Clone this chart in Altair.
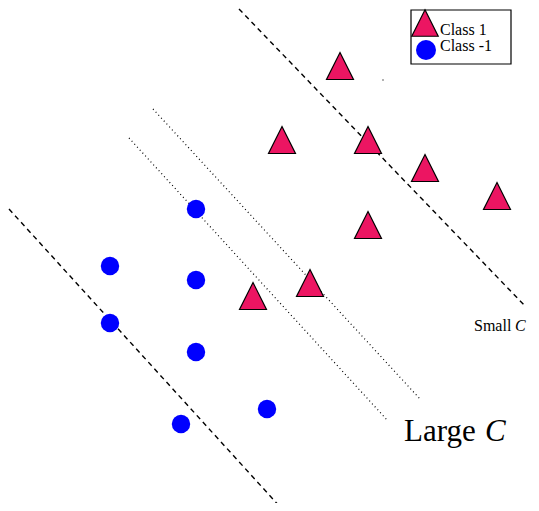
import altair as alt
import pandas as pd

# Data in picture coordinates (x to the right, y downward)
class1_x = [340, 282, 368, 425, 497, 368, 310, 253]
class1_y = [66, 140, 140, 168, 196, 225, 283, 296]
classm1_x = [196, 110, 196, 110, 196, 267, 181]
classm1_y = [209, 266, 280, 323, 352, 409, 424]

# separating lines (two end points each)
line_names = ["small_C", "small_C", "large_C_margin", "large_C_margin",
              "large_C_a", "large_C_a", "large_C_b", "large_C_b"]
line_x = [239, 526, 9, 282, 153, 420, 129, 388]
line_y = [9, 307, 209, 509, 109, 399, 138, 421]
line_style = ["dashed", "dashed", "dashed", "dashed", "dotted", "dotted", "dotted", "dotted"]

labels = ["Small ", "Large "]
legend_labels = ["Class 1", "Class -1"]

X = alt.Scale(domain=[8, 531], nice=False, zero=False)
Y = alt.Scale(domain=[8, 503], nice=False, zero=False, reverse=True)

pink = "#EC1562"
blue = "#0000FF"
tri = "M0,-1L1,1L-1,1Z"
serif = "Liberation Serif"

def enc(ch):
    return ch.encode(x=alt.X("x:Q", scale=X, axis=None), y=alt.Y("y:Q", scale=Y, axis=None))

lines_df = pd.DataFrame({"x": line_x, "y": line_y, "name": line_names, "style": line_style})
dashed = alt.Chart(lines_df[lines_df["style"] == "dashed"]).mark_line(
    color="black", strokeWidth=1.4, strokeDash=[5, 4]
).encode(x=alt.X("x:Q", scale=X, axis=None), y=alt.Y("y:Q", scale=Y, axis=None), detail="name:N")
dotted = alt.Chart(lines_df[lines_df["style"] == "dotted"]).mark_line(
    color="black", strokeWidth=1.2, strokeDash=[1, 3]
).encode(x=alt.X("x:Q", scale=X, axis=None), y=alt.Y("y:Q", scale=Y, axis=None), detail="name:N")

c1 = enc(alt.Chart(pd.DataFrame({"x": class1_x, "y": class1_y})).mark_point(
    shape=tri, filled=True, fill=pink, stroke="black", strokeWidth=1.2, opacity=1, size=729
))

cm1 = enc(alt.Chart(pd.DataFrame({"x": classm1_x, "y": classm1_y})).mark_circle(
    color=blue, opacity=1, size=340
))

dot = enc(alt.Chart(pd.DataFrame({"x": [383], "y": [80]})).mark_square(
    color="#888888", opacity=1, size=3
))

def txt(x, y, t, size, style="normal", font=serif):
    return alt.Chart(pd.DataFrame({"x": x, "y": y, "t": t})).mark_text(
        font=font, fontSize=size, fontStyle=style, align="left", baseline="alphabetic", color="black"
    ).encode(x=alt.X("x:Q", scale=X, axis=None), y=alt.Y("y:Q", scale=Y, axis=None), text="t:N")

small_txt = txt([474], [331], [labels[0]], 16)
small_c = txt([515], [331], ["C"], 16, "italic")
large_txt = txt([404], [441], [labels[1]], 31)
large_c = txt([485], [441], ["C"], 31, "italic")

# legend box
box = alt.Chart(pd.DataFrame({"x": [411], "x2": [511], "y": [10], "y2": [64]})).mark_rect(
    fill="white", stroke="black", strokeWidth=1.2
).encode(x=alt.X("x:Q", scale=X, axis=None), x2="x2:Q",
         y=alt.Y("y:Q", scale=Y, axis=None), y2="y2:Q")
leg_tri = enc(alt.Chart(pd.DataFrame({"x": [425], "y": [23]})).mark_point(
    shape=tri, filled=True, fill=pink, stroke="black", strokeWidth=1.2, opacity=1, size=700
))
leg_circ = enc(alt.Chart(pd.DataFrame({"x": [426], "y": [50]})).mark_circle(
    color=blue, opacity=1, size=400
))
leg_txt = txt([440, 440], [35, 50.5], legend_labels, 16)

chart = alt.layer(
    dashed, dotted, dot, c1, cm1, small_txt, small_c, large_txt, large_c,
    box, leg_tri, leg_circ, leg_txt
).properties(
    width=523, height=495, padding=0, autosize=alt.AutoSizeParams(type="none"),
    background="white"
).configure_view(stroke=None)

chart.save("out.html", embed_options={"renderer": "svg", "actions": False})
